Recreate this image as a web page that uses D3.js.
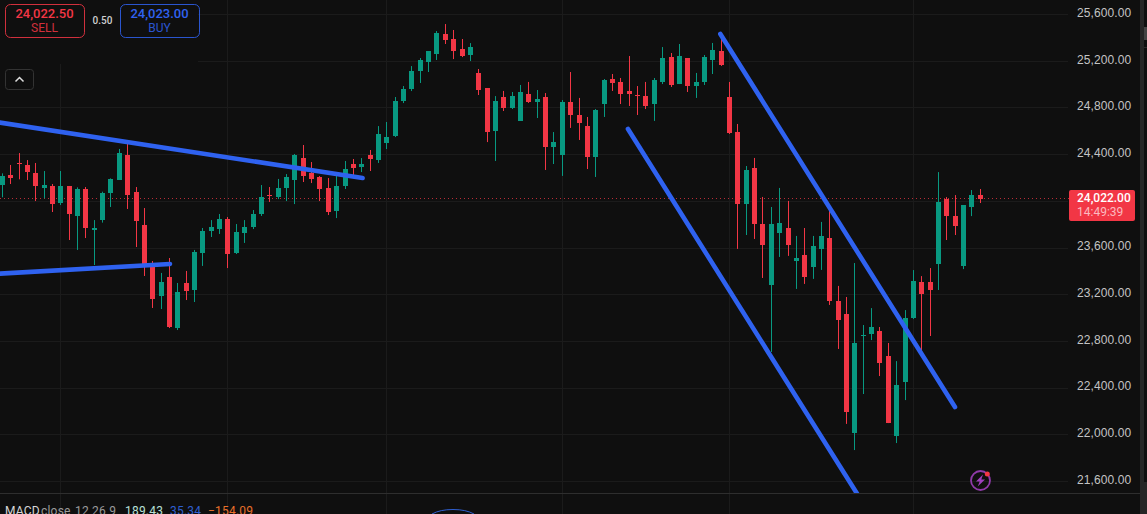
<!DOCTYPE html>
<html><head><meta charset="utf-8">
<style>html,body{margin:0;padding:0;background:#0f0f0f;overflow:hidden}svg{display:block;font-family:Roboto,"Liberation Sans",sans-serif}</style>
<script src="https://cdn.jsdelivr.net/npm/d3@7/dist/d3.min.js"></script>
</head><body><svg id="c" width="1147" height="514"></svg>
<script>
const opens=[24135,24221,24324,24307,24238,24110,24127,23981,24127,23870,24101,23750,23835,24067,24178,24392,24075,23793,23467,23185,23347,22910,23296,23236,23553,23741,23758,23844,23553,23724,
23775,23887,24049,24032,24109,24178,24366,24238,24204,24109,23912,24127,24315,24289,24392,24349,24495,24555,24855,24957,25112,25189,25257,25428,25386,25300,25249,25094,24966,24598,
24889,24795,24684,24915,24846,24889,24461,24392,24846,24735,24641,24375,24829,25043,25018,24941,24906,24898,24829,25018,25232,25000,25223,24983,25018,25206,25283,24889,24590,23973,
24281,23802,23279,23725,23767,23485,23536,23433,23588,23682,23142,23031,22012,22842,22859,22884,22670,21985,22448,22996,23304,23304,23458,24015,23869,23441,23946,24049];
const closes=[24212,24192,24315,24247,24127,24135,23973,24127,23887,24101,23767,23767,24067,24187,24409,24050,23827,23459,23159,23304,22919,23219,23227,23561,23741,23776,23844,23544,23733,23776,
23887,24032,24041,24109,24204,24392,24212,24187,24101,23904,24127,24272,24281,24315,24358,24572,24546,24855,24957,25112,25206,25283,25437,25377,25283,25240,25317,24949,24589,24855,
24795,24898,24932,24846,24872,24461,24504,24846,24735,24666,24375,24778,25035,25009,24915,24915,24898,24812,25035,25223,24992,25240,24983,25018,25232,25292,25163,24581,23973,24264,
23802,23622,23802,23810,23622,23510,23348,23613,23699,23142,22979,22191,22782,22850,22919,22610,22096,22422,22996,23313,23201,23236,23989,23869,23784,23964,24049,24015];
const highs=[24235,24307,24409,24349,24324,24255,24144,24255,24127,24115,24118,23835,24078,24192,24444,24504,24118,23938,23484,23382,23510,23296,23399,23579,23767,23835,23887,23861,23801,23835,
23921,24135,24118,24187,24229,24401,24478,24332,24212,24195,24212,24341,24358,24366,24435,24640,24675,24889,24983,25154,25223,25283,25454,25514,25463,25386,25351,25129,24966,24897,
24941,24932,24992,25018,24949,24923,24589,24863,25103,24881,24718,24786,25043,25086,25052,25240,24983,25018,25052,25317,25266,25343,25223,25095,25249,25352,25412,25018,24658,24298,
24367,24033,23947,24110,23999,23699,23767,23699,23819,23956,23271,23176,23467,22936,23081,22919,22782,22627,23064,23407,23355,23424,24246,24032,24049,23964,24092,24101];
const lows=[24030,24144,24184,24178,23998,24021,23904,23964,23664,23579,23681,23450,23813,23947,24178,23930,23604,23356,23082,23073,22910,22893,23150,23133,23442,23690,23716,23424,23544,23639,
23758,23870,23990,24015,23998,23972,24161,24152,23998,23878,23852,24101,24195,24246,24255,24324,24443,24546,24837,24940,25009,25103,25206,25343,25214,25231,25197,24906,24503,24341,
24769,24786,24684,24838,24709,24264,24315,24213,24624,24521,24272,24204,24718,24941,24829,24812,24735,24786,24684,25000,24975,25000,24932,24881,24992,25086,25155,24572,23588,23707,
23673,23339,22705,23519,23528,23245,23288,23331,23408,23108,22731,22089,21865,22345,22807,22499,22096,21925,22293,22987,22679,22842,23236,23664,23707,23415,23869,23981];
const priceTicks=[25600,25200,24800,24400,24000,23600,23200,22800,22400,22000,21600];
const timeGridIdx=[7,27,46,67,87,109];
const lastPrice=24022;
const trendLines=[
 [[-0.28,24670],[43.1,24195]],
 [[-0.28,23376],[20.06,23459]],
 [[85.9,25429],[113.97,22234]],
 [[74.85,24615],[102.36,21480]]
];
const sellPrice="24,022.50",buyPrice="24,023.00",spread="0.50",lastLabel="24,022.00",countdown="14:49:39";
const macdLabels=["MACD","close","12 26 9","189.43","35.34","\u2212154.09"];
const macdColors=["#d6d6d6","#9a9a9a","#9a9a9a","#b8e0d8","#2f5fd0","#e9702a"];
const macdX=[5,41,75,125,170,208];

const RED="#f23645",GREEN="#089981",BLUE="#2f62f0",GRID="#1b1b1b";
const svg=d3.select("#c");
svg.append("rect").attr("width",1147).attr("height",514).attr("fill","#0f0f0f");
const x=d3.scaleLinear().domain([0,117]).range([2.3,980.3]);
const y=d3.scaleLinear().domain([21600,25600]).range([481,14]);
const snap=v=>Math.round(v)+0.5;

const g=svg.append("g");
g.selectAll("line.h").data(priceTicks).join("line").attr("class","h")
 .attr("x1",0).attr("x2",1068).attr("y1",d=>snap(y(d))).attr("y2",d=>snap(y(d))).attr("stroke",GRID);
g.selectAll("line.v").data(timeGridIdx).join("line").attr("class","v")
 .attr("x1",d=>Math.floor(x(d))+0.5).attr("x2",d=>Math.floor(x(d))+0.5).attr("y1",0).attr("y2",514).attr("stroke",GRID);
g.append("rect").attr("x",0).attr("y",0).attr("width",198).attr("height",64).attr("fill","#0f0f0f");
g.append("line").attr("x1",0).attr("x2",1140).attr("y1",493.5).attr("y2",493.5).attr("stroke","#2e2e2e");
g.append("rect").attr("x",1140).attr("y",0).attr("width",4).attr("height",514).attr("fill","#262626");
g.append("rect").attr("x",1144).attr("y",27).attr("width",3).attr("height",13).attr("fill","#444");
g.append("rect").attr("x",1144).attr("y",47).attr("width",3).attr("height",1).attr("fill","#2c2c2c");
g.append("rect").attr("x",1144).attr("y",482).attr("width",3).attr("height",32).attr("fill","#262626");

g.append("line").attr("x1",0).attr("x2",1069).attr("y1",snap(y(lastPrice))).attr("y2",snap(y(lastPrice)))
 .attr("stroke",RED).attr("stroke-dasharray","1 3").attr("opacity",.75);

const idx=d3.range(opens.length);
const c=svg.append("g");
c.selectAll("line").data(idx).join("line")
 .attr("x1",i=>Math.floor(x(i))+0.5).attr("x2",i=>Math.floor(x(i))+0.5)
 .attr("y1",i=>y(highs[i])).attr("y2",i=>y(lows[i]))
 .attr("stroke",i=>closes[i]>=opens[i]?GREEN:RED);
c.selectAll("rect").data(idx).join("rect")
 .attr("x",i=>Math.floor(x(i))-2).attr("width",5)
 .attr("y",i=>Math.round(y(Math.max(opens[i],closes[i]))))
 .attr("height",i=>Math.max(1,Math.round(y(Math.min(opens[i],closes[i])))-Math.round(y(Math.max(opens[i],closes[i])))))
 .attr("fill",i=>closes[i]>=opens[i]?GREEN:RED);

svg.append("clipPath").attr("id","pane").append("rect").attr("width",1140).attr("height",493);
const lineGen=d3.line().x(d=>x(d[0])).y(d=>y(d[1]));
svg.append("g").attr("clip-path","url(#pane)").selectAll("path").data(trendLines).join("path")
 .attr("d",lineGen).attr("fill","none").attr("stroke",BLUE).attr("stroke-width",4.6).attr("stroke-linecap","round");

const ax=d3.axisRight(y).tickValues(priceTicks).tickFormat(d3.format(",.2f")).tickSize(0).tickPadding(0);
const axG=svg.append("g").attr("transform","translate(1077,-1.5)").call(ax);
axG.select(".domain").remove();
axG.selectAll("text").attr("fill","#c4c4c4").style("font-size","12px").style("letter-spacing","0.1px");

svg.append("rect").attr("x",1069).attr("y",190).attr("width",66).attr("height",31).attr("rx",2).attr("fill",RED);
svg.append("text").attr("x",1077).attr("y",202).attr("fill","#fff").style("font-size","12px").style("font-weight",500).text(lastLabel);
svg.append("text").attr("x",1077).attr("y",216).attr("fill","#fbb9bf").style("font-size","12px").text(countdown);

function box(bx,w,col,a,b){
 svg.append("rect").attr("x",bx+.5).attr("y",4.5).attr("width",w).attr("height",33).attr("rx",5).attr("fill","none").attr("stroke",col).attr("opacity",.85);
 svg.append("text").attr("x",bx+w/2).attr("y",18).attr("text-anchor","middle").attr("fill",col).style("font-size","13px").style("font-weight",500).text(a);
 svg.append("text").attr("x",bx+w/2).attr("y",32).attr("text-anchor","middle").attr("fill",col).attr("opacity",.85).style("font-size","12px").text(b);
}
box(5,79,RED,sellPrice,"SELL");
box(120,79,BLUE,buyPrice,"BUY");
svg.append("text").attr("x",102.5).attr("y",24).attr("text-anchor","middle").attr("fill","#d0d0d0").style("font-size","10px").style("font-weight",500).text(spread);
svg.append("rect").attr("x",5.5).attr("y",69.5).attr("width",28).attr("height",20).attr("rx",3).attr("fill","none").attr("stroke","#333");
svg.append("path").attr("d","M15.5 81.5L19.5 77.5L23.5 81.5").attr("fill","none").attr("stroke","#e0e0e0").attr("stroke-width",1.5);

svg.append("g").selectAll("text").data(macdLabels).join("text")
 .attr("x",(d,i)=>macdX[i]).attr("y",515).attr("fill",(d,i)=>macdColors[i]).style("font-size","12px").style("letter-spacing","0.2px").text(d=>d);
svg.append("path").attr("d","M432 514Q440 509.5 453 509.5Q466 509.5 474 514").attr("fill","none").attr("stroke","#2f5fd0");

const ic=svg.append("g").attr("transform","translate(980.5,480.5)");
ic.append("circle").attr("r",9.5).attr("fill","none").attr("stroke","#8e3aa8").attr("stroke-width",1.8);
ic.append("path").attr("d","M2.5 -6L-4.5 1L-0.8 1L-2.8 6L4.5 -1L0.8 -1Z").attr("fill","#a040c0");
ic.append("circle").attr("cx",6.8).attr("cy",-6.5).attr("r",2.5).attr("fill",RED);
</script></body></html>
